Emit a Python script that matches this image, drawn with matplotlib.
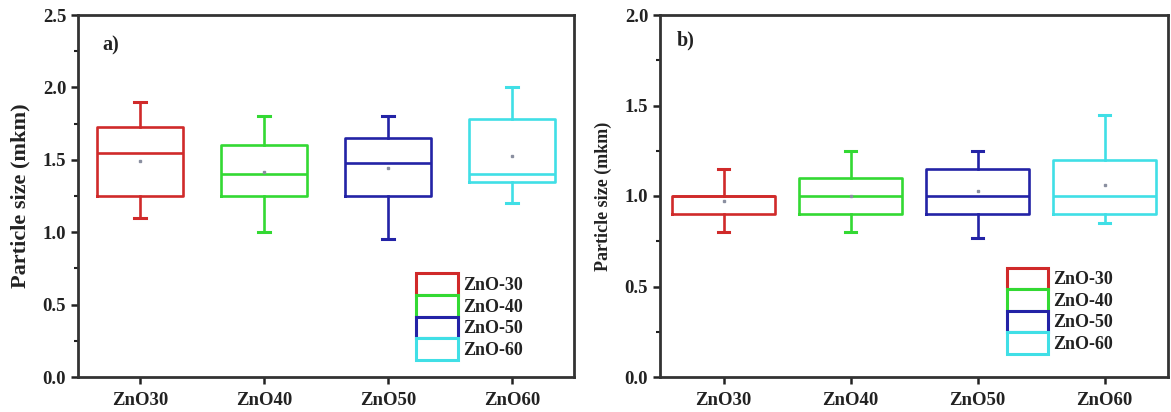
import matplotlib
matplotlib.use("Agg")
import matplotlib.pyplot as plt
from matplotlib.patches import Patch
from matplotlib.ticker import MultipleLocator, FormatStrFormatter

plt.rcParams['font.family'] = ['Liberation Serif', 'DejaVu Serif']
plt.rcParams['font.weight'] = 'bold'

categories = ["ZnO30", "ZnO40", "ZnO50", "ZnO60"]
legend_labels = ["ZnO-30", "ZnO-40", "ZnO-50", "ZnO-60"]
colors = ["#d02a2a", "#33d933", "#2323a6", "#40dfe6"]

# Panel a)
a_whislo = [1.10, 1.00, 0.95, 1.20]
a_q1     = [1.25, 1.25, 1.25, 1.35]
a_med    = [1.55, 1.40, 1.475, 1.40]
a_q3     = [1.725, 1.60, 1.65, 1.78]
a_whishi = [1.90, 1.80, 1.80, 2.00]
a_mean   = [1.49, 1.415, 1.44, 1.525]

# Panel b)
b_whislo = [0.80, 0.80, 0.77, 0.85]
b_q1     = [0.90, 0.90, 0.90, 0.90]
b_med    = [1.00, 1.00, 1.00, 1.00]
b_q3     = [1.00, 1.10, 1.15, 1.20]
b_whishi = [1.15, 1.25, 1.25, 1.45]
b_mean   = [0.975, 1.00, 1.03, 1.06]

fig = plt.figure(figsize=(11.71, 4.12), dpi=100)
axa = fig.add_axes([78/1171, 35/412, 496/1171, 362/412])
axb = fig.add_axes([660/1171, 35/412, 508/1171, 362/412])


def panel(ax, lo, q1, med, q3, hi, mean, ymax, width, capw, letter, lx, ly,
          ylabsize, legloc):
    for i in range(len(categories)):
        st = [dict(whislo=lo[i], q1=q1[i], med=med[i], q3=q3[i],
                   whishi=hi[i], mean=mean[i], fliers=[])]
        c = colors[i]
        ax.bxp(st, positions=[i + 1], widths=width, showmeans=True,
               showfliers=False, capwidths=capw,
               boxprops=dict(color=c, linewidth=1.9),
               medianprops=dict(color=c, linewidth=1.9),
               whiskerprops=dict(color=c, linewidth=1.9),
               capprops=dict(color=c, linewidth=2.2),
               meanprops=dict(marker='s', markersize=1.6,
                              markerfacecolor='#8a8fa0',
                              markeredgecolor='#8a8fa0'))
    ax.set_xlim(0.5, 4.5)
    ax.set_ylim(0, ymax)
    ax.set_xticks(range(1, 5))
    ax.set_xticklabels(categories, fontsize=13.5, fontweight='bold')
    ax.yaxis.set_major_locator(MultipleLocator(0.5))
    ax.yaxis.set_minor_locator(MultipleLocator(0.25))
    ax.yaxis.set_major_formatter(FormatStrFormatter('%.1f'))
    ax.tick_params(axis='y', which='major', length=5, width=1.8,
                   labelsize=13.5, colors='#222222', labelcolor='#222222')
    ax.tick_params(axis='y', which='minor', length=3, width=1.5, colors='#222222')
    ax.tick_params(axis='x', which='major', length=5, width=1.8,
                   labelsize=13.5, colors='#222222', labelcolor='#222222', pad=6)
    for lab in ax.get_yticklabels() + ax.get_xticklabels():
        lab.set_fontweight('bold')
    for sp in ax.spines.values():
        sp.set_linewidth(2.0)
        sp.set_color('#333333')
    ax.set_ylabel("Particle size (mkm)", fontsize=ylabsize, fontweight='bold',
                  color='#222222', labelpad=9)
    ax.text(lx, ly, letter, transform=ax.transAxes, fontsize=14.5,
            fontweight='bold', va='center', ha='left', color='#222222')
    handles = [Patch(facecolor='white', edgecolor=c, linewidth=2.2)
               for c in colors]
    leg = ax.legend(handles, legend_labels, loc='lower right',
                    bbox_to_anchor=legloc, frameon=False, fontsize=13,
                    handlelength=2.3, handleheight=1.46, labelspacing=0.0,
                    handletextpad=0.3, borderpad=0.0)
    for t in leg.get_texts():
        t.set_fontweight('bold')
        t.set_color('#222222')


panel(axa, a_whislo, a_q1, a_med, a_q3, a_whishi, a_mean, 2.5, 0.70, 0.10,
      "a)", 0.05, 0.915, 16, (0.915, 0.023))
panel(axb, b_whislo, b_q1, b_med, b_q3, b_whishi, b_mean, 2.0, 0.81, 0.085,
      "b)", 0.032, 0.93, 13, (0.91, 0.039))

fig.savefig("out.png", dpi=100)
